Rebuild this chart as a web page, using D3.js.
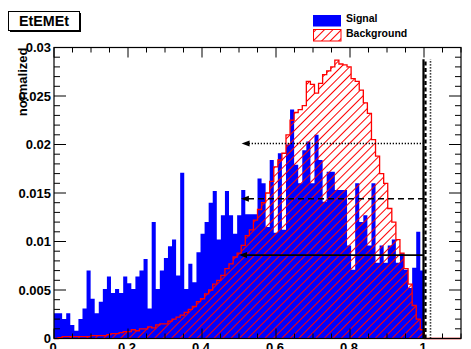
<!DOCTYPE html>
<html>
<head>
<meta charset="utf-8">
<script src="https://cdn.jsdelivr.net/npm/d3@7"></script>
<style>
	body { margin: 0; background: #ffffff; }
	svg { display: block; font-family: "Liberation Sans", Arial, sans-serif; font-weight: bold; }
	.tickLabel { font-size: 13px; fill: #000000; }
	.legendLabel { font-size: 10.5px; fill: #000000; }
</style>
</head>
<body>
<script>

//histogram binning (100 bins from 0 to 1.1)
var BIN_LOW = 0;
var BIN_HIGH = 1.1;
var N_BINS = 100;

//signal, normalized bin contents
var signal = [
	0.0026, 0.0026, 0.0020, 0.0026, 0.0014, 0.0008, 0.0020, 0.0031, 0.0070, 0.0041,
	0.0026, 0.0038, 0.0051, 0.0064, 0.0047, 0.0051, 0.0047, 0.0064, 0.0057, 0.0051,
	0.0064, 0.0070, 0.0082, 0.0031, 0.0120, 0.0051, 0.0070, 0.0083, 0.0095, 0.0102,
	0.0065, 0.0171, 0.0051, 0.0077, 0.0058, 0.0089, 0.0108, 0.0120, 0.0140, 0.0152,
	0.0102, 0.0127, 0.0152, 0.0127, 0.0108, 0.0127, 0.0153, 0.0128, 0.0128, 0.0128,
	0.0165, 0.0160, 0.0115, 0.0184, 0.0109, 0.0191, 0.0112, 0.0200, 0.0236, 0.0179,
	0.0160, 0.0194, 0.0203, 0.0160, 0.0210, 0.0184, 0.0141, 0.0172, 0.0172, 0.0153,
	0.0153, 0.0153, 0.0096, 0.0071, 0.0160, 0.0120, 0.0127, 0.0096, 0.0160, 0.0078,
	0.0096, 0.0078, 0.0096, 0.0102, 0.0078, 0.0088, 0.0071, 0.0052, 0.0073, 0.0110,
	0.0070, 0, 0, 0, 0, 0, 0, 0, 0, 0
];

//background, normalized bin contents
var background = [
	0.0000, 0.0001, 0.0002, 0.0002, 0.0002, 0.0002, 0.0002, 0.0002, 0.0002, 0.0003,
	0.0003, 0.0003, 0.0003, 0.0004, 0.0005, 0.0005, 0.0006, 0.0007, 0.0007, 0.0009,
	0.0008, 0.0010, 0.0010, 0.0012, 0.0011, 0.0014, 0.0015, 0.0015, 0.0018, 0.0020,
	0.0022, 0.0024, 0.0027, 0.0030, 0.0033, 0.0038, 0.0041, 0.0046, 0.0050, 0.0056,
	0.0060, 0.0065, 0.0072, 0.0077, 0.0084, 0.0088, 0.0096, 0.0106, 0.0112, 0.0122,
	0.0133, 0.0140, 0.0150, 0.0162, 0.0177, 0.0184, 0.0191, 0.0210, 0.0225, 0.0233,
	0.0236, 0.0240, 0.0265, 0.0262, 0.0253, 0.0263, 0.0272, 0.0276, 0.0280, 0.0287,
	0.0283, 0.0282, 0.0280, 0.0268, 0.0265, 0.0256, 0.0243, 0.0232, 0.0205, 0.0188,
	0.0170, 0.0160, 0.0134, 0.0120, 0.0102, 0.0088, 0.0072, 0.0056, 0.0034, 0.0020,
	0.0009, 0, 0, 0, 0, 0, 0, 0, 0, 0
];

//axis ticks
var xMajorTicks = [0, 0.2, 0.4, 0.6, 0.8, 1];
var xTickLabels = ["0", "0.2", "0.4", "0.6", "0.8", "1"];
var yMajorTicks = [0, 0.005, 0.01, 0.015, 0.02, 0.025, 0.03];
var yTickLabels = ["0", "0.005", "0.01", "0.015", "0.02", "0.025", "0.03"];

//cut arrows: height, arrow tip, line style
var cutHeights = [0.0201, 0.0144, 0.0086];
var cutTips = [0.507, 0.505, 0.5];
var cutStyles = ["dotted", "dashed", "solid"];
var CUT_END = 1.0;
var CUT_LINE_TOP = 0.0288;

var legendLabels = ["Signal", "Background"];

var WIDTH = 471;
var HEIGHT = 349;

var FRAME_LEFT = 54;
var FRAME_RIGHT = 461;
var FRAME_TOP = 47.5;
var FRAME_BOTTOM = 338.5;

var DASH = { solid: null, dashed: "6,4", dotted: "1.3,1.7" };

var svg = d3.select("body").append("svg")
	.attr("width", WIDTH)
	.attr("height", HEIGHT);

var x = d3.scaleLinear().domain([BIN_LOW, BIN_HIGH]).range([FRAME_LEFT, FRAME_RIGHT]);
var y = d3.scaleLinear().domain([0, 0.03]).range([FRAME_BOTTOM, FRAME_TOP]);

var binWidth = (BIN_HIGH - BIN_LOW) / N_BINS;

//hatch pattern for background
var defs = svg.append("defs");
defs.append("pattern")
	.attr("id", "hatch")
	.attr("patternUnits", "userSpaceOnUse")
	.attr("width", 6)
	.attr("height", 6)
	.attr("patternTransform", "rotate(45)")
	.append("line")
	.attr("x1", 0.5).attr("y1", 0)
	.attr("x2", 0.5).attr("y2", 6)
	.attr("stroke", "#ff0000")
	.attr("stroke-width", 1);

function toSteps(values) {
	var pts = values.map(function(v, i) {
		return { x: BIN_LOW + i * binWidth, v: v };
	});
	pts.push({ x: BIN_HIGH, v: values[values.length - 1] });
	return pts;
}

//signal histogram (solid blue)
var area = d3.area()
	.curve(d3.curveStepAfter)
	.x(function(d) { return x(d.x); })
	.y0(y(0))
	.y1(function(d) { return y(d.v); });

svg.append("path")
	.datum(toSteps(signal))
	.attr("fill", "#0000ff")
	.attr("d", area);

//background histogram (hatched, red outline)
svg.append("path")
	.datum(toSteps(background))
	.attr("fill", "url(#hatch)")
	.attr("d", area);

var outlinePts = [{ x: BIN_LOW, v: 0 }].concat(toSteps(background));
svg.append("path")
	.datum(outlinePts)
	.attr("fill", "none")
	.attr("stroke", "#ff0000")
	.attr("stroke-width", 1.3)
	.attr("d", d3.line()
		.curve(d3.curveStepAfter)
		.x(function(d) { return x(d.x); })
		.y(function(d) { return y(d.v); }));

//cut lines and arrows
cutHeights.forEach(function(h, i) {
	var style = cutStyles[i];
	var yy = y(h);
	var tip = x(cutTips[i]);
	svg.append("line")
		.attr("x1", x(CUT_END)).attr("y1", yy)
		.attr("x2", tip + 6).attr("y2", yy)
		.attr("stroke", "#000000")
		.attr("stroke-width", style == "solid" ? 1.6 : 1.4)
		.attr("stroke-dasharray", DASH[style]);
	svg.append("path")
		.attr("d", "M" + tip + "," + yy + "L" + (tip + 8) + "," + (yy - 3) + "L" + (tip + 8) + "," + (yy + 3) + "Z")
		.attr("fill", "#000000");
});

//vertical cut lines at x = 1
var vOffsets = { solid: -0.5, dashed: 1.5, dotted: 6.5 };
cutStyles.forEach(function(style) {
	svg.append("line")
		.attr("x1", x(CUT_END) + vOffsets[style]).attr("y1", y(0))
		.attr("x2", x(CUT_END) + vOffsets[style]).attr("y2", y(CUT_LINE_TOP))
		.attr("stroke", "#000000")
		.attr("stroke-width", style == "dotted" ? 1.6 : 2.2)
		.attr("stroke-dasharray", style == "dashed" ? "4,2.5" : DASH[style]);
});

//frame
svg.append("rect")
	.attr("x", FRAME_LEFT).attr("y", FRAME_TOP)
	.attr("width", FRAME_RIGHT - FRAME_LEFT)
	.attr("height", FRAME_BOTTOM - FRAME_TOP)
	.attr("fill", "none")
	.attr("stroke", "#000000")
	.attr("stroke-width", 1.2);

var ticks = svg.append("g").attr("stroke", "#000000").attr("stroke-width", 1);

//x ticks, every 0.05, majors every 0.2
d3.range(0, 23).forEach(function(k) {
	var v = k * 0.05;
	var len = (k % 4 == 0) ? 10 : 5;
	var xx = x(v);
	ticks.append("line").attr("x1", xx).attr("x2", xx).attr("y1", FRAME_BOTTOM).attr("y2", FRAME_BOTTOM - len);
	ticks.append("line").attr("x1", xx).attr("x2", xx).attr("y1", FRAME_TOP).attr("y2", FRAME_TOP + len);
});

//y ticks, every 0.001, majors every 0.005
d3.range(0, 31).forEach(function(k) {
	var yy = y(k * 0.001);
	var len = (k % 5 == 0) ? 12 : 6;
	ticks.append("line").attr("x1", FRAME_LEFT).attr("x2", FRAME_LEFT + len).attr("y1", yy).attr("y2", yy);
	ticks.append("line").attr("x1", FRAME_RIGHT).attr("x2", FRAME_RIGHT - len).attr("y1", yy).attr("y2", yy);
});

//tick labels
svg.selectAll(".xLabel")
	.data(xMajorTicks)
	.enter()
	.append("text")
	.attr("class", "tickLabel")
	.attr("text-anchor", "middle")
	.attr("x", function(d) { return x(d) - 1; })
	.attr("y", 351.5)
	.text(function(d, i) { return xTickLabels[i]; });

svg.selectAll(".yLabel")
	.data(yMajorTicks)
	.enter()
	.append("text")
	.attr("class", "tickLabel")
	.attr("text-anchor", "end")
	.attr("x", 51)
	.attr("y", function(d) { return y(d) + 4.6; })
	.text(function(d, i) { return yTickLabels[i]; });

//y axis title
svg.append("text")
	.attr("class", "tickLabel")
	.attr("text-anchor", "end")
	.attr("transform", "translate(27," + FRAME_TOP + ") rotate(-90)")
	.text("normalized");

//title box
svg.append("rect")
	.attr("x", 10).attr("y", 13)
	.attr("width", 71).attr("height", 19)
	.attr("fill", "#000000");
svg.append("rect")
	.attr("x", 8.5).attr("y", 11.5)
	.attr("width", 71).attr("height", 19)
	.attr("fill", "#ffffff")
	.attr("stroke", "#000000")
	.attr("stroke-width", 1);
svg.append("text")
	.attr("x", 44)
	.attr("y", 26)
	.attr("text-anchor", "middle")
	.style("font-size", "14.3px")
	.text("EtEMEt");

//legend
var legend = svg.append("g").attr("transform", "translate(313,15)");
legend.append("rect")
	.attr("x", 0).attr("y", 0)
	.attr("width", 28).attr("height", 11.5)
	.attr("fill", "#0000ff");
legend.append("rect")
	.attr("x", 0.5).attr("y", 14.5)
	.attr("width", 27.5).attr("height", 11.5)
	.attr("fill", "url(#hatch)")
	.attr("stroke", "#ff0000")
	.attr("stroke-width", 1);
legend.selectAll(".legendLabel")
	.data(legendLabels)
	.enter()
	.append("text")
	.attr("class", "legendLabel")
	.attr("x", 33)
	.attr("y", function(d, i) { return 7 + i * 15; })
	.text(function(d) { return d; });

</script>
</body>
</html>
